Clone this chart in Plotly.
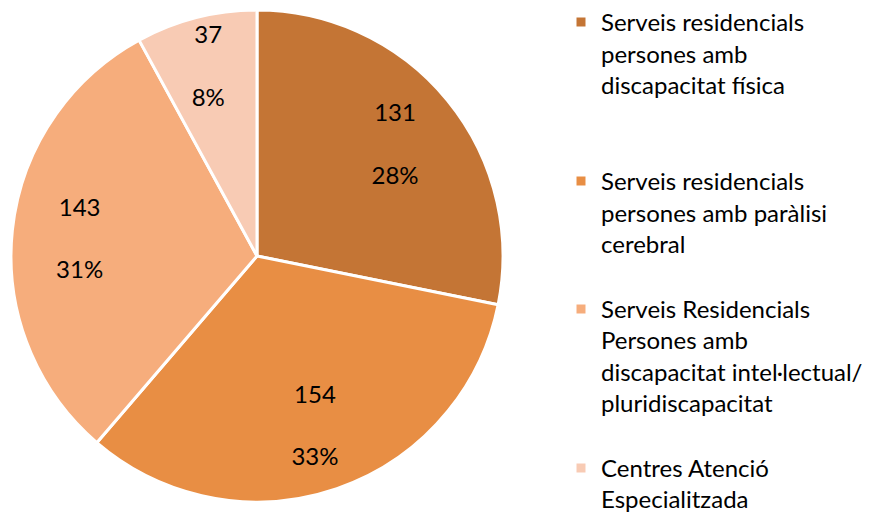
import plotly.graph_objects as go

labels = [
    "Serveis residencials<br>persones amb<br>discapacitat física",
    "Serveis residencials<br>persones amb paràlisi<br>cerebral",
    "Serveis Residencials<br>Persones amb<br>discapacitat intel·lectual/<br>pluridiscapacitat",
    "Centres Atenció<br>Especialitzada",
]
values = [131, 154, 143, 37]
colors = ["#C47535", "#E88E44", "#F6AD7C", "#F8CBB4"]

W, H = 874, 513
FONT = "Lato"
FS = 24

# blank lines appended to legend entries to reproduce the evenly spread legend
legend_pad = [2, 1, 1, 0]
legend_names = [lab + "<br> " * p for lab, p in zip(labels, legend_pad)]

dom = dict(x=[11 / W, 503 / W], y=[11 / H, 503 / H])

fig = go.Figure()
# main pie (slices + legend)
fig.add_trace(go.Pie(
    labels=legend_names,
    values=values,
    sort=False,
    direction="clockwise",
    rotation=0,
    marker=dict(colors=colors, line=dict(color="white", width=3)),
    textinfo="none",
    hoverinfo="value+percent",
    domain=dom,
))
# transparent ring overlay carrying the data labels (puts them further out like Excel)
fig.add_trace(go.Pie(
    labels=legend_names,
    values=values,
    sort=False,
    direction="clockwise",
    rotation=0,
    hole=0.45,
    marker=dict(colors=["rgba(0,0,0,0)"] * len(values), line=dict(width=0)),
    texttemplate="%{value}<br><br>%{percent:.0%}",
    textposition="inside",
    insidetextorientation="horizontal",
    textfont=dict(family=FONT, size=FS, color="black"),
    hoverinfo="skip",
    showlegend=False,
    domain=dom,
))

fig.update_layout(
    width=W, height=H,
    margin=dict(l=0, r=0, t=0, b=0),
    paper_bgcolor="white",
    plot_bgcolor="white",
    font=dict(family=FONT, size=FS, color="black"),
    uniformtext=dict(minsize=FS, mode="show"),
    legend=dict(
        x=561 / W, xanchor="left",
        y=1 - 8 / H, yanchor="top",
        valign="top",
        font=dict(family=FONT, size=FS, color="black"),
        itemwidth=30,
        maxheight=1000,
        bgcolor="rgba(0,0,0,0)",
    ),
)

fig.write_html(
    "out.html",
    config={"displayModeBar": False},
    post_script="document.body.style.margin='0';document.body.style.overflow='hidden';",
)
